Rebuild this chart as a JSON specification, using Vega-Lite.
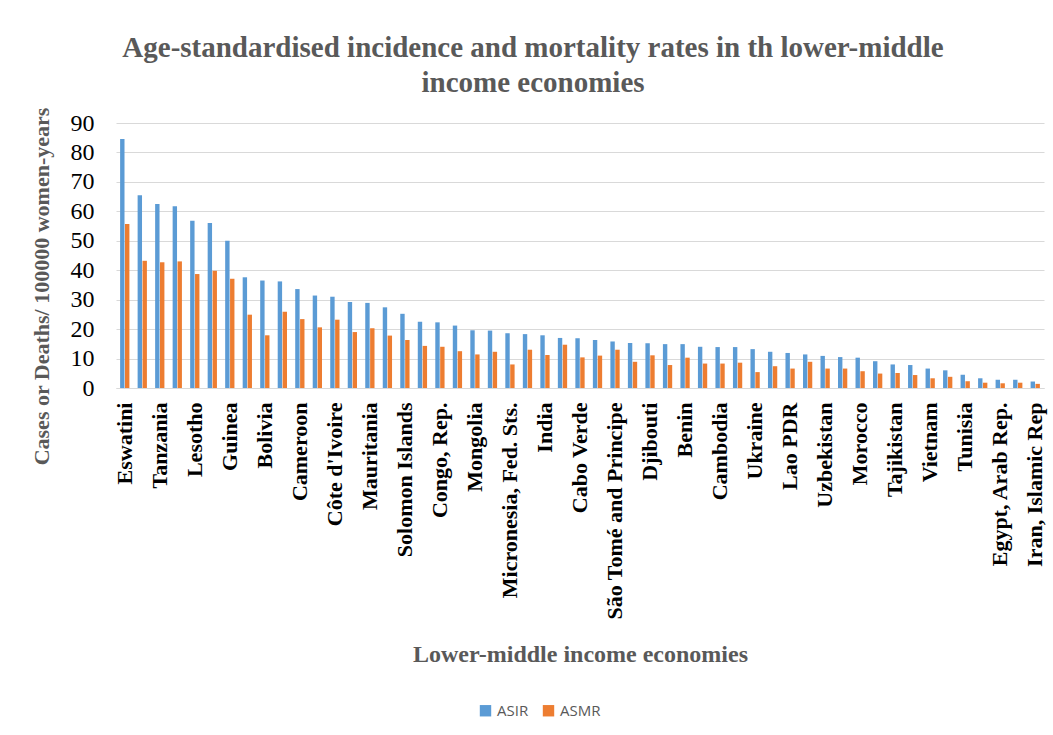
{
  "$schema": "https://vega.github.io/schema/vega-lite/v6.json",
  "width": 928,
  "height": 265,
  "autosize": {"type": "none"},
  "padding": {"left": 116, "top": 123, "right": 9, "bottom": 347},
  "background": "white",
  "title": {
    "text": ["Age-standardised incidence and mortality rates in th lower-middle", "income economies"],
    "font": "Liberation Serif",
    "fontSize": 29,
    "fontWeight": "bold",
    "color": "#595959",
    "anchor": "middle",
    "frame": "group",
    "dx": -47,
    "lineHeight": 35,
    "offset": 9
  },
  "data": {
    "values": [
      {"Country": "Eswatini", "Measure": "ASIR", "Rate": 84.6}, {"Country": "Eswatini", "Measure": "ASMR", "Rate": 55.7},
      {"Country": "Zambia", "Measure": "ASIR", "Rate": 65.5}, {"Country": "Zambia", "Measure": "ASMR", "Rate": 43.2},
      {"Country": "Tanzania", "Measure": "ASIR", "Rate": 62.5}, {"Country": "Tanzania", "Measure": "ASMR", "Rate": 42.7},
      {"Country": "Zimbabwe", "Measure": "ASIR", "Rate": 61.7}, {"Country": "Zimbabwe", "Measure": "ASMR", "Rate": 43.0},
      {"Country": "Lesotho", "Measure": "ASIR", "Rate": 56.8}, {"Country": "Lesotho", "Measure": "ASMR", "Rate": 38.7},
      {"Country": "Comoros", "Measure": "ASIR", "Rate": 56.0}, {"Country": "Comoros", "Measure": "ASMR", "Rate": 39.8},
      {"Country": "Guinea", "Measure": "ASIR", "Rate": 50.0}, {"Country": "Guinea", "Measure": "ASMR", "Rate": 37.1},
      {"Country": "Senegal", "Measure": "ASIR", "Rate": 37.6}, {"Country": "Senegal", "Measure": "ASMR", "Rate": 24.9},
      {"Country": "Bolivia", "Measure": "ASIR", "Rate": 36.5}, {"Country": "Bolivia", "Measure": "ASMR", "Rate": 17.9},
      {"Country": "Kenya", "Measure": "ASIR", "Rate": 36.2}, {"Country": "Kenya", "Measure": "ASMR", "Rate": 25.9},
      {"Country": "Cameroon", "Measure": "ASIR", "Rate": 33.6}, {"Country": "Cameroon", "Measure": "ASMR", "Rate": 23.4},
      {"Country": "Papua New Guinea", "Measure": "ASIR", "Rate": 31.4}, {"Country": "Papua New Guinea", "Measure": "ASMR", "Rate": 20.6},
      {"Country": "Côte d'Ivoire", "Measure": "ASIR", "Rate": 31.0}, {"Country": "Côte d'Ivoire", "Measure": "ASMR", "Rate": 23.2},
      {"Country": "Haiti", "Measure": "ASIR", "Rate": 29.2}, {"Country": "Haiti", "Measure": "ASMR", "Rate": 19.0},
      {"Country": "Mauritania", "Measure": "ASIR", "Rate": 28.9}, {"Country": "Mauritania", "Measure": "ASMR", "Rate": 20.3},
      {"Country": "Nigeria", "Measure": "ASIR", "Rate": 27.4}, {"Country": "Nigeria", "Measure": "ASMR", "Rate": 17.8},
      {"Country": "Solomon Islands", "Measure": "ASIR", "Rate": 25.2}, {"Country": "Solomon Islands", "Measure": "ASMR", "Rate": 16.3},
      {"Country": "Ghana", "Measure": "ASIR", "Rate": 22.5}, {"Country": "Ghana", "Measure": "ASMR", "Rate": 14.3},
      {"Country": "Congo, Rep.", "Measure": "ASIR", "Rate": 22.3}, {"Country": "Congo, Rep.", "Measure": "ASMR", "Rate": 14.0},
      {"Country": "Angola", "Measure": "ASIR", "Rate": 21.2}, {"Country": "Angola", "Measure": "ASMR", "Rate": 12.5},
      {"Country": "Mongolia", "Measure": "ASIR", "Rate": 19.6}, {"Country": "Mongolia", "Measure": "ASMR", "Rate": 11.4},
      {"Country": "Nicaragua", "Measure": "ASIR", "Rate": 19.5}, {"Country": "Nicaragua", "Measure": "ASMR", "Rate": 12.3},
      {"Country": "Micronesia, Fed. Sts.", "Measure": "ASIR", "Rate": 18.6}, {"Country": "Micronesia, Fed. Sts.", "Measure": "ASMR", "Rate": 8.0},
      {"Country": "Myanmar", "Measure": "ASIR", "Rate": 18.3}, {"Country": "Myanmar", "Measure": "ASMR", "Rate": 13.0},
      {"Country": "India", "Measure": "ASIR", "Rate": 17.9}, {"Country": "India", "Measure": "ASMR", "Rate": 11.2},
      {"Country": "Kiribati", "Measure": "ASIR", "Rate": 17.0}, {"Country": "Kiribati", "Measure": "ASMR", "Rate": 14.7},
      {"Country": "Cabo Verde", "Measure": "ASIR", "Rate": 16.9}, {"Country": "Cabo Verde", "Measure": "ASMR", "Rate": 10.4},
      {"Country": "Honduras", "Measure": "ASIR", "Rate": 16.3}, {"Country": "Honduras", "Measure": "ASMR", "Rate": 11.0},
      {"Country": "São Tomé and Principe", "Measure": "ASIR", "Rate": 15.8}, {"Country": "São Tomé and Principe", "Measure": "ASMR", "Rate": 13.0},
      {"Country": "Bhutan", "Measure": "ASIR", "Rate": 15.3}, {"Country": "Bhutan", "Measure": "ASMR", "Rate": 8.9},
      {"Country": "Djibouti", "Measure": "ASIR", "Rate": 15.2}, {"Country": "Djibouti", "Measure": "ASMR", "Rate": 11.1},
      {"Country": "El Salvador", "Measure": "ASIR", "Rate": 14.9}, {"Country": "El Salvador", "Measure": "ASMR", "Rate": 7.8},
      {"Country": "Benin", "Measure": "ASIR", "Rate": 14.9}, {"Country": "Benin", "Measure": "ASMR", "Rate": 10.3},
      {"Country": "Nepal", "Measure": "ASIR", "Rate": 14.0}, {"Country": "Nepal", "Measure": "ASMR", "Rate": 8.3},
      {"Country": "Cambodia", "Measure": "ASIR", "Rate": 13.9}, {"Country": "Cambodia", "Measure": "ASMR", "Rate": 8.3},
      {"Country": "Timor-Leste", "Measure": "ASIR", "Rate": 13.9}, {"Country": "Timor-Leste", "Measure": "ASMR", "Rate": 8.6},
      {"Country": "Ukraine", "Measure": "ASIR", "Rate": 13.2}, {"Country": "Ukraine", "Measure": "ASMR", "Rate": 5.4},
      {"Country": "Kyrgyz Republic", "Measure": "ASIR", "Rate": 12.3}, {"Country": "Kyrgyz Republic", "Measure": "ASMR", "Rate": 7.4},
      {"Country": "Lao PDR", "Measure": "ASIR", "Rate": 11.9}, {"Country": "Lao PDR", "Measure": "ASMR", "Rate": 6.6},
      {"Country": "Philippines", "Measure": "ASIR", "Rate": 11.4}, {"Country": "Philippines", "Measure": "ASMR", "Rate": 8.9},
      {"Country": "Uzbekistan", "Measure": "ASIR", "Rate": 10.9}, {"Country": "Uzbekistan", "Measure": "ASMR", "Rate": 6.6},
      {"Country": "Vanuatu", "Measure": "ASIR", "Rate": 10.5}, {"Country": "Vanuatu", "Measure": "ASMR", "Rate": 6.6},
      {"Country": "Morocco", "Measure": "ASIR", "Rate": 10.3}, {"Country": "Morocco", "Measure": "ASMR", "Rate": 5.7},
      {"Country": "Sri Lanka", "Measure": "ASIR", "Rate": 9.1}, {"Country": "Sri Lanka", "Measure": "ASMR", "Rate": 4.9},
      {"Country": "Tajikistan", "Measure": "ASIR", "Rate": 8.0}, {"Country": "Tajikistan", "Measure": "ASMR", "Rate": 5.1},
      {"Country": "Bangladesh", "Measure": "ASIR", "Rate": 7.8}, {"Country": "Bangladesh", "Measure": "ASMR", "Rate": 4.4},
      {"Country": "Vietnam", "Measure": "ASIR", "Rate": 6.6}, {"Country": "Vietnam", "Measure": "ASMR", "Rate": 3.3},
      {"Country": "Pakistan", "Measure": "ASIR", "Rate": 6.0}, {"Country": "Pakistan", "Measure": "ASMR", "Rate": 3.8},
      {"Country": "Tunisia", "Measure": "ASIR", "Rate": 4.5}, {"Country": "Tunisia", "Measure": "ASMR", "Rate": 2.3},
      {"Country": "Algeria", "Measure": "ASIR", "Rate": 3.3}, {"Country": "Algeria", "Measure": "ASMR", "Rate": 1.8},
      {"Country": "Egypt, Arab Rep.", "Measure": "ASIR", "Rate": 2.8}, {"Country": "Egypt, Arab Rep.", "Measure": "ASMR", "Rate": 1.6},
      {"Country": "Samoa", "Measure": "ASIR", "Rate": 2.8}, {"Country": "Samoa", "Measure": "ASMR", "Rate": 1.8},
      {"Country": "Iran, Islamic Rep", "Measure": "ASIR", "Rate": 2.2}, {"Country": "Iran, Islamic Rep", "Measure": "ASMR", "Rate": 1.4}
    ]
  },
  "mark": {"type": "bar"},
  "encoding": {
    "x": {
      "field": "Country",
      "type": "nominal",
      "sort": null,
      "scale": {"paddingInner": 0.47, "paddingOuter": 0.235},
      "axis": {
        "values": ["Eswatini", "Tanzania", "Lesotho", "Guinea", "Bolivia", "Cameroon", "Côte d'Ivoire", "Mauritania", "Solomon Islands", "Congo, Rep.", "Mongolia", "Micronesia, Fed. Sts.", "India", "Cabo Verde", "São Tomé and Principe", "Djibouti", "Benin", "Cambodia", "Ukraine", "Lao PDR", "Uzbekistan", "Morocco", "Tajikistan", "Vietnam", "Tunisia", "Egypt, Arab Rep.", "Iran, Islamic Rep"],
        "labelAngle": -90,
        "labelAlign": "right",
        "labelBaseline": "middle",
        "labelFont": "Liberation Serif",
        "labelFontSize": 22,
        "labelFontWeight": "bold",
        "labelColor": "#000000",
        "labelPadding": 14,
        "labelOverlap": false,
        "labelLimit": 400,
        "ticks": false,
        "grid": false,
        "domainColor": "#d9d9d9",
        "domainWidth": 1,
        "title": "Lower-middle income economies",
        "titleFont": "Liberation Serif",
        "titleFontSize": 24,
        "titleFontWeight": "bold",
        "titleColor": "#595959",
        "titleBaseline": "alphabetic",
        "titleY": 273
      }
    },
    "xOffset": {
      "field": "Measure",
      "type": "nominal",
      "sort": ["ASIR", "ASMR"],
      "scale": {"paddingInner": 0.1, "paddingOuter": 0}
    },
    "y": {
      "field": "Rate",
      "type": "quantitative",
      "scale": {"domain": [0, 90], "nice": false},
      "axis": {
        "values": [0, 10, 20, 30, 40, 50, 60, 70, 80, 90],
        "labelFont": "Liberation Serif",
        "labelFontSize": 24,
        "labelColor": "#000000",
        "labelPadding": 22,
        "ticks": false,
        "domain": false,
        "gridColor": "#d9d9d9",
        "gridWidth": 1,
        "title": "Cases or Deaths/ 100000 women-years",
        "titleFont": "Liberation Serif",
        "titleFontSize": 22,
        "titleFontWeight": "bold",
        "titleColor": "#595959",
        "titlePadding": 17,
        "titleY": 163
      }
    },
    "color": {
      "field": "Measure",
      "type": "nominal",
      "scale": {"domain": ["ASIR", "ASMR"], "range": ["#5B9BD5", "#ED7D31"]},
      "legend": {
        "orient": "none",
        "legendX": 362,
        "legendY": 580,
        "direction": "horizontal",
        "title": null,
        "symbolType": "square",
        "symbolSize": 130,
        "symbolStrokeWidth": 0,
        "labelFont": "Open Sans",
        "labelFontSize": 15,
        "labelColor": "#595959",
        "labelOffset": 4,
        "columnPadding": 12,
        "padding": 0
      }
    }
  },
  "config": {"view": {"stroke": null}}
}
